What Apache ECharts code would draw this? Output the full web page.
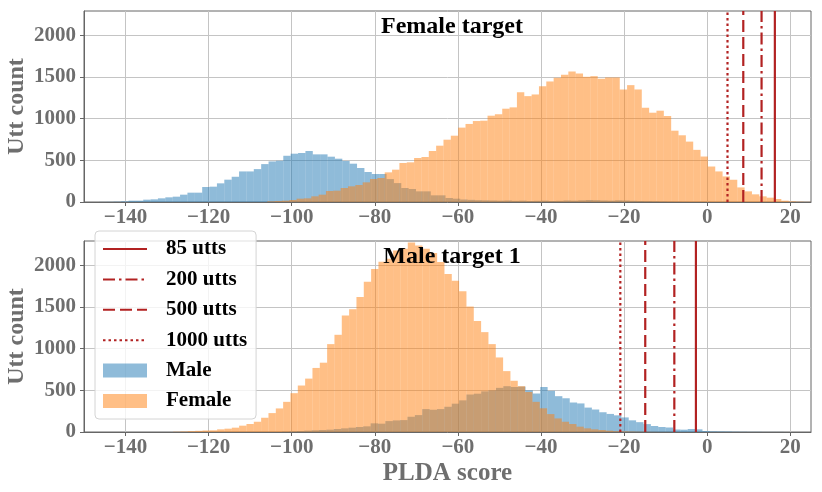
<!DOCTYPE html>
<html>
<head>
<meta charset="utf-8">
<script src="https://cdn.jsdelivr.net/npm/echarts@6/dist/echarts.min.js"></script>
<style>
html,body{margin:0;padding:0;background:#fff;}
#chart{width:822px;height:492px;}
</style>
</head>
<body>
<div id="chart"></div>
<script>
// ---------------- DATA ----------------
const xTicks = [-140, -120, -100, -80, -60, -40, -20, 0, 20];
const yTicks = [0, 500, 1000, 1500, 2000];
const xRange = [-150, 25];
const yMax = 2293;

const panelTitles = ['Female target', 'Male target 1'];
const lineNames = ['85 utts', '200 utts', '500 utts', '1000 utts'];

// Panel 1 (Female target): histogram bins (start, width) and counts
const femaleTargetMaleStart = -146.4;
const femaleTargetMaleWidth = 1.775;
const femaleTargetMaleCounts = [
  1, 2, 4, 8, 16, 16, 28, 32, 44, 56, 64, 88, 112, 112, 180, 184, 224, 268, 303, 367,
  367, 395, 455, 487, 495, 555, 580, 588, 612, 572, 572, 544, 520, 492, 460, 408, 360, 336, 336, 275,
  227, 168, 156, 128, 128, 80, 80, 48, 40, 30, 26, 22, 20, 18, 16, 18, 14, 16, 12, 14,
  16, 12, 14, 18, 16, 20, 24, 22, 18, 16, 20, 18, 14, 12, 10, 8, 6, 4, 3, 2,
  1, 1, 1
];
const femaleTargetFemaleStart = -105.9;
const femaleTargetFemaleWidth = 1.768;
const femaleTargetFemaleCounts = [
  8, 12, 16, 24, 40, 44, 68, 88, 132, 136, 168, 188, 204, 236, 276, 288, 356, 388, 468, 476,
  528, 540, 612, 676, 748, 796, 893, 937, 972, 976, 1036, 1052, 1120, 1136, 1319, 1271, 1291, 1391, 1447, 1491,
  1527, 1567, 1543, 1503, 1511, 1479, 1495, 1495, 1351, 1403, 1351, 1132, 1072, 1096, 1032, 856, 801, 725, 626, 546,
  426, 367, 307, 267, 175, 128, 92, 68, 52, 36, 16, 8, 4, 2
];
const femaleTargetScores = [16.3, 13.1, 8.7, 4.9];   // 85, 200, 500, 1000 utts

// Panel 2 (Male target 1)
const maleTargetMaleStart = -102.3;
const maleTargetMaleWidth = 1.775;
const maleTargetMaleCounts = [
  4, 8, 12, 16, 20, 24, 28, 36, 44, 52, 60, 68, 104, 100, 131, 139, 143, 183, 203, 275,
  267, 275, 303, 340, 380, 450, 460, 488, 500, 530, 550, 540, 545, 500, 462, 540, 494, 430, 405, 354,
  343, 293, 270, 237, 217, 200, 175, 140, 118, 95, 72, 60, 54, 30, 28, 36, 32, 12, 8, 7,
  6, 4, 3, 2, 2, 1, 1, 1
];
const maleTargetFemaleStart = -128.54;
const maleTargetFemaleWidth = 1.765;
const maleTargetFemaleCounts = [
  3, 6, 10, 14, 18, 20, 32, 40, 52, 76, 96, 123, 171, 227, 283, 362, 466, 558, 641, 769,
  832, 1055, 1167, 1398, 1474, 1621, 1804, 1956, 2043, 2080, 2180, 2200, 2274, 2240, 2200, 2150, 2040, 1896, 1816, 1689,
  1506, 1334, 1199, 1055, 895, 731, 615, 550, 480, 362, 285, 215, 163, 123, 96, 64, 44, 32, 24, 16,
  10, 8, 6, 4, 3, 2, 1, 1
];
const maleTargetScores = [-2.7, -7.9, -14.9, -20.9];

// ---------------- STYLE ----------------
const FONT = "'Liberation Serif','Times New Roman',serif";
const GRAY = '#6e6e6e';
const RED = '#b22222';
const BLUE = 'rgba(31,119,180,0.5)';
const ORANGE = 'rgba(255,127,14,0.5)';
const dashTypes = ['solid', [12, 4, 2.5, 4], [12, 5], [2.5, 3]];

function binsOf(start, width, counts) {
  return counts.map((c, i) => [start + i * width, start + (i + 1) * width, c]);
}
function histSeries(name, gridIdx, data, color) {
  return {
    type: 'custom', name: name, xAxisIndex: gridIdx, yAxisIndex: gridIdx,
    itemStyle: { color: color },
    encode: { x: [0, 1], y: 2 },
    data: data,
    z: 2,
    renderItem: function (params, api) {
      const p0 = api.coord([api.value(0), api.value(2)]);
      const p1 = api.coord([api.value(1), 0]);
      return {
        type: 'rect',
        shape: { x: p0[0], y: p0[1], width: p1[0] - p0[0], height: p1[1] - p0[1] },
        style: { fill: color }
      };
    }
  };
}
function vlineSeries(gridIdx, scores) {
  return scores.map((s, i) => ({
    type: 'line', name: lineNames[i], xAxisIndex: gridIdx, yAxisIndex: gridIdx,
    data: [[s, 0], [s, yMax]], symbol: 'none', z: 3,
    lineStyle: { color: RED, width: 2.2, type: dashTypes[i] },
    itemStyle: { color: RED }
  }));
}
const fmtX = v => (v < 0 ? '\u2212' + Math.abs(v) : String(v));
const fmtY = v => String(v);

function xAxisOf(i, withName) {
  return {
    type: 'value', gridIndex: i, min: xRange[0], max: xRange[1],
    axisLine: { show: true, onZero: false, lineStyle: { color: '#666', width: 1 } },
    axisTick: { show: true, length: 4, customValues: xTicks, lineStyle: { color: '#666' } },
    axisLabel: { customValues: xTicks, formatter: fmtX, margin: 5,
      fontFamily: FONT, fontWeight: 'bold', fontSize: 21, color: GRAY },
    splitLine: { show: true, lineStyle: { color: '#c4c4c4', width: 1 } },
    name: withName ? 'PLDA score' : '', nameLocation: 'middle', nameGap: 29, nameMoveOverlap: false,
    nameTextStyle: { fontFamily: FONT, fontWeight: 'bold', fontSize: 25, color: GRAY }
  };
}
function yAxisOf(i) {
  return {
    type: 'value', gridIndex: i, min: 0, max: yMax,
    axisLine: { show: true, onZero: false, lineStyle: { color: '#666', width: 1 } },
    axisTick: { show: true, length: 4, customValues: yTicks, lineStyle: { color: '#666' } },
    axisLabel: { customValues: yTicks, formatter: fmtY, margin: 8,
      fontFamily: FONT, fontWeight: 'bold', fontSize: 21, color: GRAY },
    splitLine: { show: true, lineStyle: { color: '#c4c4c4', width: 1 } },
    name: 'Utt count', nameLocation: 'middle', nameGap: 55, nameRotate: 90, nameMoveOverlap: false,
    nameTextStyle: { fontFamily: FONT, fontWeight: 'bold', fontSize: 24, color: GRAY }
  };
}

const hiddenSymbol = { color: 'rgba(0,0,0,0)', opacity: 0, borderWidth: 0 };

const chart = echarts.init(document.getElementById('chart'), null, { renderer: 'canvas' });
chart.setOption({
  animation: false,
  backgroundColor: '#fff',
  grid: [
    { left: 84, right: 11, top: 11, height: 191, show: true, borderColor: '#666', borderWidth: 1,
      containLabel: false, outerBoundsMode: 'none' },
    { left: 84, right: 11, top: 241, height: 191, show: true, borderColor: '#666', borderWidth: 1,
      containLabel: false, outerBoundsMode: 'none' }
  ],
  title: [
    { text: panelTitles[0], left: 447, top: 10, textAlign: 'center',
      textStyle: { fontFamily: FONT, fontWeight: 'bold', fontSize: 24, color: '#000' } },
    { text: panelTitles[1], left: 447, top: 240, textAlign: 'center', z: 6,
      textStyle: { fontFamily: FONT, fontWeight: 'bold', fontSize: 24, color: '#000' } }
  ],
  legend: {
    orient: 'vertical', left: 95, top: 231,
    padding: [7, 9, 7, 7], itemGap: 8.4, itemWidth: 44, itemHeight: 14,
    backgroundColor: 'rgba(255,255,255,0.8)', borderColor: '#d4d4d4', borderWidth: 1, borderRadius: 4,
    textStyle: { fontFamily: FONT, fontWeight: 'bold', fontSize: 21, color: '#000', padding: [0, 0, 0, 14], lineHeight: 22 },
    data: [
      { name: lineNames[0], itemStyle: hiddenSymbol },
      { name: lineNames[1], itemStyle: hiddenSymbol },
      { name: lineNames[2], itemStyle: hiddenSymbol },
      { name: lineNames[3], itemStyle: hiddenSymbol },
      { name: 'Male', icon: 'rect' }, { name: 'Female', icon: 'rect' }
    ]
  },
  xAxis: [xAxisOf(0, false), xAxisOf(1, true)],
  yAxis: [yAxisOf(0), yAxisOf(1)],
  series: [
    histSeries('Male', 0, binsOf(femaleTargetMaleStart, femaleTargetMaleWidth, femaleTargetMaleCounts), BLUE),
    histSeries('Female', 0, binsOf(femaleTargetFemaleStart, femaleTargetFemaleWidth, femaleTargetFemaleCounts), ORANGE),
    histSeries('Male', 1, binsOf(maleTargetMaleStart, maleTargetMaleWidth, maleTargetMaleCounts), BLUE),
    histSeries('Female', 1, binsOf(maleTargetFemaleStart, maleTargetFemaleWidth, maleTargetFemaleCounts), ORANGE)
  ].concat(vlineSeries(0, femaleTargetScores), vlineSeries(1, maleTargetScores))
});
</script>
</body>
</html>
